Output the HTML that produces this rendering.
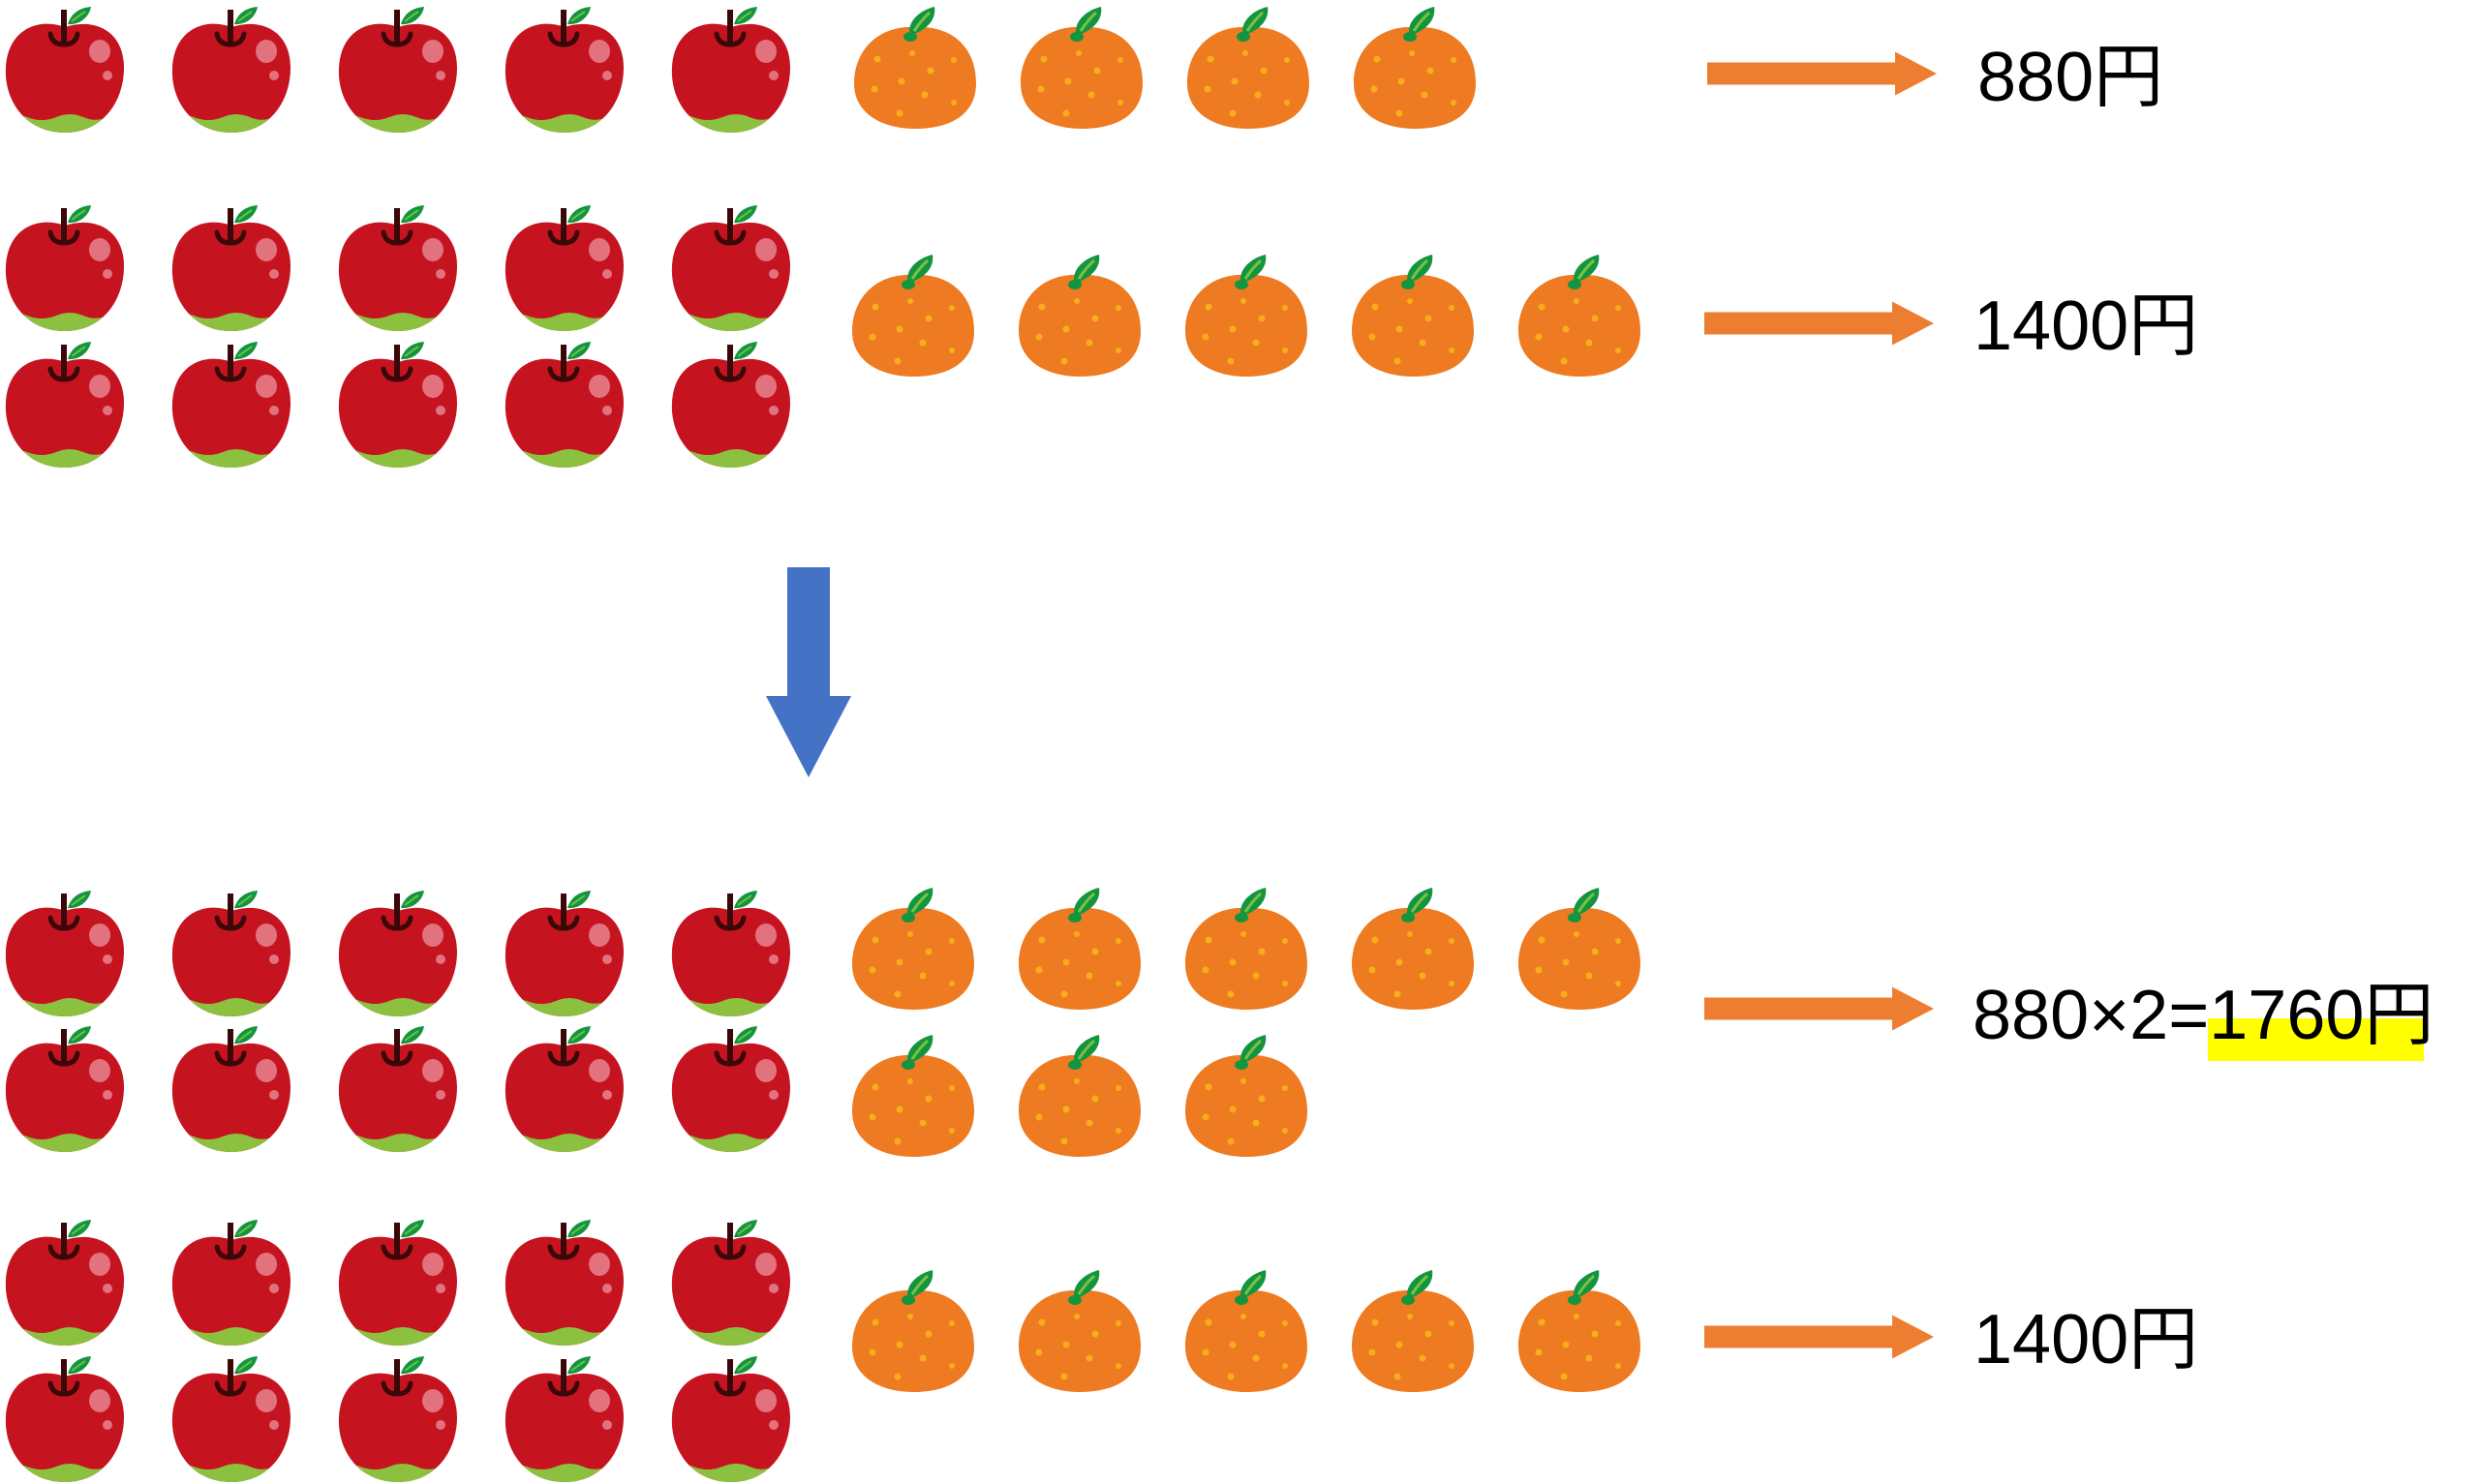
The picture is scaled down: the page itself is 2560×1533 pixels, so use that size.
<!DOCTYPE html>
<html><head><meta charset="utf-8"><style>
html,body{margin:0;padding:0;background:#fff;}
svg{display:block;}
text{font-family:"Liberation Sans","Noto Sans CJK JP",sans-serif;font-size:72px;fill:#000;}
</style></head><body>
<svg width="2560" height="1533" viewBox="0 0 2560 1533" xmlns="http://www.w3.org/2000/svg">
<defs>
<clipPath id="abody"><path d="M67,28 C40,18 8,30 6,70 C4,102 25,137 67,137 C106,137 128,105 128,70 C128,32 98,18 67,28 Z"/></clipPath>
<g id="apple">
<path d="M67,28 C40,18 8,30 6,70 C4,102 25,137 67,137 C106,137 128,105 128,70 C128,32 98,18 67,28 Z" fill="#C5141F"/>
<path clip-path="url(#abody)" d="M0,123 Q14,116 28,121 Q43,127 58,121 Q72,115 86,121 Q100,127 112,120 L135,118 L135,145 L0,145Z" fill="#8CC03F"/>
<ellipse cx="103" cy="53" rx="11" ry="12" fill="#E3727F"/>
<circle cx="111" cy="78" r="5" fill="#E3727F"/>
<path d="M52,35 Q54,46 66,46 Q78,46 80,35" fill="none" stroke="#3A0808" stroke-width="5" stroke-linecap="round"/>
<rect x="63" y="10" width="6" height="36" fill="#3A0808"/>
<path d="M70,25 C74,12 84,8 94,7 C92,18 82,26 70,25 Z" fill="#139540"/>
<path d="M74,22 Q82,16 88,12" stroke="#6CBF45" stroke-width="2" fill="none"/>
</g>
<g id="orange">
<path d="M63,28 C25,26 0,52 0,86 C0,118 30,133 63,133 C100,133 126,118 126,86 C126,48 100,26 63,28Z" fill="#EE7A21"/>
<path d="M57,34 C56,20 70,10 83,7 C85,20 76,30 60,36 Z" fill="#139540"/>
<path d="M62,32 Q70,20 78,13" stroke="#7BC043" stroke-width="3" fill="none"/>
<ellipse cx="58" cy="38" rx="7" ry="5" fill="#139540"/>
<g fill="#F8AE1B">
<circle cx="24" cy="61" r="3.5"/><circle cx="60" cy="55" r="3"/><circle cx="79" cy="73" r="3.5"/><circle cx="103" cy="62" r="3"/>
<circle cx="49" cy="84" r="3.5"/><circle cx="21" cy="92" r="3.5"/><circle cx="73" cy="98" r="3.5"/><circle cx="103" cy="106" r="3"/><circle cx="47" cy="117" r="3.5"/>
</g>
</g>
<g id="apples5">
<use href="#apple" x="0"/><use href="#apple" x="173"/><use href="#apple" x="346"/><use href="#apple" x="519"/><use href="#apple" x="692"/>
</g>
<g id="oranges5">
<use href="#orange" x="0"/><use href="#orange" x="172"/><use href="#orange" x="344"/><use href="#orange" x="516"/><use href="#orange" x="688"/>
</g>
<path id="oarrow" d="M0,-11.5 L194,-11.5 L194,-22.5 L237,0 L194,22.5 L194,11.5 L0,11.5 Z" fill="#ED7D31"/>
</defs>

<!-- row 1 -->
<g transform="translate(0,0)"><use href="#apple" x="0"/><use href="#apple" x="172"/><use href="#apple" x="344"/><use href="#apple" x="516"/><use href="#apple" x="688"/></g>
<use href="#orange" x="882" y="0"/><use href="#orange" x="1054" y="0"/><use href="#orange" x="1226" y="0"/><use href="#orange" x="1398" y="0"/>
<use href="#oarrow" x="1763" y="76"/>
<text x="2042" y="104">880円</text>

<!-- row 2 -->
<g transform="translate(0,205)"><use href="#apple" x="0"/><use href="#apple" x="172"/><use href="#apple" x="344"/><use href="#apple" x="516"/><use href="#apple" x="688"/></g>
<g transform="translate(0,346)"><use href="#apple" x="0"/><use href="#apple" x="172"/><use href="#apple" x="344"/><use href="#apple" x="516"/><use href="#apple" x="688"/></g>
<use href="#oranges5" x="880" y="256"/>
<use href="#oarrow" x="1760" y="334"/>
<text x="2038" y="361">1400円</text>

<!-- blue arrow -->
<path d="M813,586 L857,586 L857,719 L879,719 L835,803 L791,719 L813,719 Z" fill="#4472C4"/>

<!-- row 3 -->
<g transform="translate(0,913)"><use href="#apple" x="0"/><use href="#apple" x="172"/><use href="#apple" x="344"/><use href="#apple" x="516"/><use href="#apple" x="688"/></g>
<g transform="translate(0,1053)"><use href="#apple" x="0"/><use href="#apple" x="172"/><use href="#apple" x="344"/><use href="#apple" x="516"/><use href="#apple" x="688"/></g>
<use href="#oranges5" x="880" y="910"/>
<use href="#orange" x="880" y="1062"/><use href="#orange" x="1052" y="1062"/><use href="#orange" x="1224" y="1062"/>
<use href="#oarrow" x="1760" y="1042"/>
<rect x="2280" y="1052" width="223" height="44" fill="#FFFF00"/>
<text x="2037" y="1073">880×2=1760円</text>

<!-- row 4 -->
<g transform="translate(0,1253)"><use href="#apple" x="0"/><use href="#apple" x="172"/><use href="#apple" x="344"/><use href="#apple" x="516"/><use href="#apple" x="688"/></g>
<g transform="translate(0,1394)"><use href="#apple" x="0"/><use href="#apple" x="172"/><use href="#apple" x="344"/><use href="#apple" x="516"/><use href="#apple" x="688"/></g>
<use href="#oranges5" x="880" y="1305"/>
<use href="#oarrow" x="1760" y="1381"/>
<text x="2038" y="1408">1400円</text>
</svg>
</body></html>
